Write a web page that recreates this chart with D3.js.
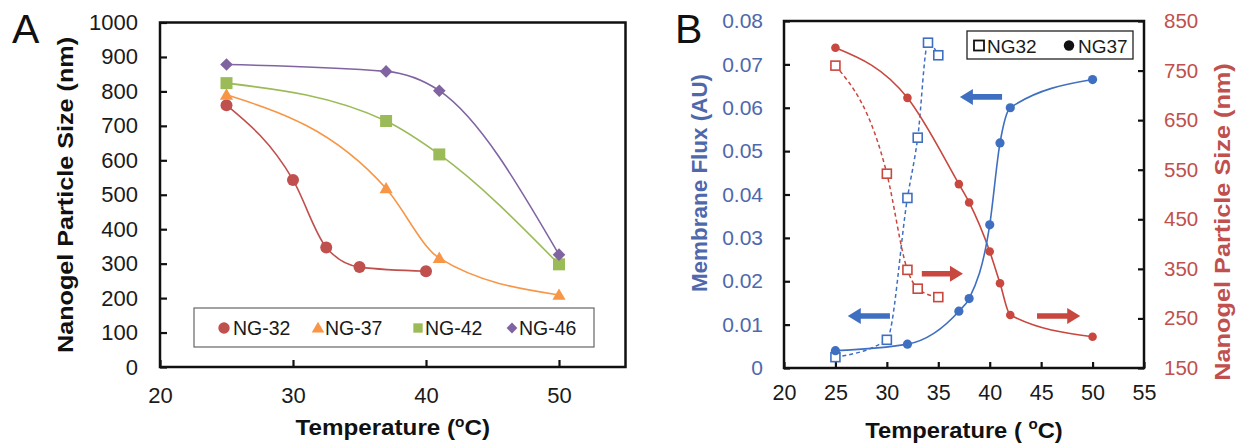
<!DOCTYPE html>
<html><head><meta charset="utf-8">
<script src="https://cdn.jsdelivr.net/npm/d3@7"></script>
<style>
html,body{margin:0;padding:0;background:#fff;}
svg{display:block;font-family:"Liberation Sans",Arial,sans-serif;}
</style></head>
<body>
<svg id="c" width="1244" height="444"></svg>
<script>
// ---------- Panel A data ----------
const tempA_NG32 = [25, 30, 32.5, 35, 40];
const sizeA_NG32 = [760, 543, 347, 290, 278];
const tempA = [25, 37, 41, 50];
const sizeA_NG37 = [790, 518, 316, 209];
const sizeA_NG42 = [824, 714, 617, 298];
const sizeA_NG46 = [878, 858, 802, 326];
const seriesNamesA = ["NG-32", "NG-37", "NG-42", "NG-46"];
const ticksAx = [20, 30, 40, 50];
const ticksAy = [0, 100, 200, 300, 400, 500, 600, 700, 800, 900, 1000];

// ---------- Panel B data ----------
const tempB_NG37 = [25, 32, 37, 38, 40, 41, 42, 50];
const fluxB_NG37 = [0.0040, 0.0055, 0.0131, 0.0160, 0.0330, 0.0519, 0.0600, 0.0665];
const sizeB_NG37 = [796, 695, 521, 484, 385, 321, 257, 213];
const tempB_NG32flux = [25, 30, 32, 33, 34, 35];
const fluxB_NG32 = [0.0025, 0.0065, 0.0392, 0.0531, 0.0750, 0.0721];
const tempB_NG32size = [25, 30, 32, 33, 35];
const sizeB_NG32 = [760, 542, 348, 310, 293];
const seriesNamesB = ["NG32", "NG37"];
const ticksBx = [20, 25, 30, 35, 40, 45, 50, 55];
const ticksBl = [0, 0.01, 0.02, 0.03, 0.04, 0.05, 0.06, 0.07, 0.08];
const ticksBr = [150, 250, 350, 450, 550, 650, 750, 850];
// arrows: tail temperature, head temperature, value on its axis
const arrowsB = [
  {x1: 30.3, x2: 26.2, v: 0.0120, axis: "flux"},
  {x1: 41.2, x2: 37.1, v: 0.0625, axis: "flux"},
  {x1: 33.4, x2: 37.4, v: 340, axis: "size"},
  {x1: 44.6, x2: 48.8, v: 255, axis: "size"}
];

const colA = ["#C0504D", "#F79646", "#9BBB59", "#8064A2"];
const BLUE = "#3F6FC0", BLUE_TXT = "#4E68AC", RED = "#C8473E", RED_TXT = "#C0504D";

const svg = d3.select("#c");
const FONT = '"Liberation Sans",Arial,sans-serif';

function stretchText(sel, x, y, k, rot) {
  sel.attr("x", 0).attr("y", 0)
     .attr("transform", `translate(${x},${y})` + (rot ? ` rotate(${rot})` : "") + ` scale(${k},1)`);
}

// ================= PANEL A =================
const xA = d3.scaleLinear().domain([20, 55]).range([160, 625.5]);
const yA = d3.scaleLinear().domain([0, 1000]).range([367, 22.5]);

const gA = svg.append("g");
const axL = gA.append("g").attr("transform", `translate(${xA(20)},0)`)
  .call(d3.axisLeft(yA).tickValues(ticksAy).tickFormat(d3.format("d"))
    .tickSizeInner(-7).tickSizeOuter(0).tickPadding(22));
const axB = gA.append("g").attr("transform", `translate(0,${yA(0)})`)
  .call(d3.axisBottom(xA).tickValues(ticksAx).tickSizeInner(-7).tickSizeOuter(0).tickPadding(20));
[axL, axB].forEach(a => {
  a.select(".domain").remove();
  a.selectAll("line").attr("stroke", "#111").attr("stroke-width", 2.2);
  a.selectAll("text").attr("font-size", 22).attr("fill", "#1a1a1a").attr("font-family", FONT);
});
gA.append("rect").attr("x", xA(20)).attr("y", yA(1000))
  .attr("width", xA(55) - xA(20)).attr("height", yA(0) - yA(1000))
  .attr("fill", "none").attr("stroke", "#111").attr("stroke-width", 2.5);

const lineS = d3.line().curve(d3.curveMonotoneX);
const seriesA = [
  {t: tempA_NG32, v: sizeA_NG32, shape: "circle"},
  {t: tempA, v: sizeA_NG37, shape: "triangle"},
  {t: tempA, v: sizeA_NG42, shape: "square"},
  {t: tempA, v: sizeA_NG46, shape: "diamond"}
];
function markerA(g, shape, x, y, c, scale) {
  scale = scale || 1;
  if (shape === "circle") {
    g.append("circle").attr("cx", x).attr("cy", y).attr("r", 6 * scale).attr("fill", c);
  } else if (shape === "triangle") {
    g.append("path").attr("transform", `translate(${x},${y + 1})`)
      .attr("d", d3.symbol(d3.symbolTriangle, 75 * scale * scale)()).attr("fill", c);
  } else if (shape === "square") {
    g.append("path").attr("transform", `translate(${x},${y})`)
      .attr("d", d3.symbol(d3.symbolSquare, 144 * scale * scale)()).attr("fill", c);
  } else {
    g.append("path").attr("transform", `translate(${x},${y}) rotate(45)`)
      .attr("d", d3.symbol(d3.symbolSquare, 80 * scale * scale)()).attr("fill", c);
  }
}
seriesA.forEach((s, i) => {
  const pts = s.t.map((t, j) => [xA(t), yA(s.v[j])]);
  gA.append("path").attr("d", lineS(pts)).attr("fill", "none")
    .attr("stroke", colA[i]).attr("stroke-width", 1.6);
});
seriesA.forEach((s, i) => {
  s.t.forEach((t, j) => markerA(gA, s.shape, xA(t), yA(s.v[j]), colA[i]));
});

// legend A
const legA = gA.append("g");
legA.append("rect").attr("x", 194).attr("y", 308).attr("width", 400).attr("height", 39)
  .attr("fill", "#fff").attr("stroke", "#666").attr("stroke-width", 1.2);
const legAx = [224, 318, 418, 512];
seriesA.forEach((s, i) => {
  const sc = s.shape === "square" ? 0.78 : (s.shape === "diamond" ? 0.85 : 0.95);
  markerA(legA, s.shape, legAx[i], 328, colA[i], sc);
  legA.append("text").attr("x", legAx[i] + (s.shape === "circle" ? 9 : 7)).attr("y", 335)
    .attr("font-size", 19.5).attr("fill", "#1a1a1a").text(seriesNamesA[i]);
});

// labels A
gA.append("text").attr("x", 12).attr("y", 43).attr("font-size", 41).attr("fill", "#111").text("A");
const ylabA = gA.append("text").attr("text-anchor", "middle").attr("font-size", 22)
  .attr("font-weight", "bold").attr("fill", "#111").text("Nanogel Particle Size (nm)");
stretchText(ylabA, 73, 195, 1.145, -90);
const xlabA = gA.append("text").attr("text-anchor", "middle").attr("font-size", 22)
  .attr("font-weight", "bold").attr("fill", "#111");
xlabA.append("tspan").text("Temperature (");
xlabA.append("tspan").attr("font-size", 14).attr("dy", -8).text("o");
xlabA.append("tspan").attr("dy", 8).text("C)");
stretchText(xlabA, (xA(20) + xA(55)) / 2, 435, 1.10, 0);

// ================= PANEL B =================
const xB = d3.scaleLinear().domain([20, 55]).range([784, 1144]);
const yBL = d3.scaleLinear().domain([0, 0.08]).range([368, 21]);
const yBR = d3.scaleLinear().domain([150, 850]).range([368, 21]);
const gB = svg.append("g");

const bL = gB.append("g").attr("transform", `translate(${xB(20)},0)`)
  .call(d3.axisLeft(yBL).tickValues(ticksBl).tickSizeInner(-6).tickSizeOuter(0).tickPadding(21)
    .tickFormat(d => d === 0 ? "0" : d3.format(".2f")(d)));
const bR = gB.append("g").attr("transform", `translate(${xB(55)},0)`)
  .call(d3.axisRight(yBR).tickValues(ticksBr).tickSizeInner(-6).tickSizeOuter(0).tickPadding(20));
const bB = gB.append("g").attr("transform", `translate(0,${yBL(0)})`)
  .call(d3.axisBottom(xB).tickValues(ticksBx).tickSizeInner(-6).tickSizeOuter(0).tickPadding(17));
[[bL, BLUE_TXT, 21], [bR, RED_TXT, 20.5], [bB, "#1a1a1a", 21.5]].forEach(([a, c, fs]) => {
  a.select(".domain").remove();
  a.selectAll("line").attr("stroke", "#111").attr("stroke-width", 2.2);
  a.selectAll("text").attr("font-size", fs).attr("fill", c).attr("font-family", FONT);
});
gB.append("rect").attr("x", xB(20)).attr("y", yBL(0.08))
  .attr("width", xB(55) - xB(20)).attr("height", yBL(0) - yBL(0.08))
  .attr("fill", "none").attr("stroke", "#111").attr("stroke-width", 2.5);

// curves
const ptsBlue37 = tempB_NG37.map((t, j) => [xB(t), yBL(fluxB_NG37[j])]);
const ptsRed37 = tempB_NG37.map((t, j) => [xB(t), yBR(sizeB_NG37[j])]);
const ptsBlue32 = tempB_NG32flux.map((t, j) => [xB(t), yBL(fluxB_NG32[j])]);
const ptsRed32 = tempB_NG32size.map((t, j) => [xB(t), yBR(sizeB_NG32[j])]);
gB.append("path").attr("d", lineS(ptsRed32)).attr("fill", "none").attr("stroke", RED)
  .attr("stroke-width", 1.5).attr("stroke-dasharray", "4,3");
gB.append("path").attr("d", lineS(ptsBlue32)).attr("fill", "none").attr("stroke", BLUE)
  .attr("stroke-width", 1.5).attr("stroke-dasharray", "4,3");
gB.append("path").attr("d", lineS(ptsRed37)).attr("fill", "none").attr("stroke", RED)
  .attr("stroke-width", 1.6);
gB.append("path").attr("d", lineS(ptsBlue37)).attr("fill", "none").attr("stroke", BLUE)
  .attr("stroke-width", 1.6);

// markers
function openSq(g, x, y, c, s, sw) {
  g.append("rect").attr("x", x - s / 2).attr("y", y - s / 2).attr("width", s).attr("height", s)
    .attr("fill", "#fff").attr("stroke", c).attr("stroke-width", sw);
}
ptsRed32.forEach(p => openSq(gB, p[0], p[1], RED, 9, 1.6));
ptsBlue32.forEach(p => openSq(gB, p[0], p[1], BLUE, 9, 1.6));
ptsRed37.forEach(p => gB.append("circle").attr("cx", p[0]).attr("cy", p[1]).attr("r", 4.3).attr("fill", RED));
ptsBlue37.forEach(p => gB.append("circle").attr("cx", p[0]).attr("cy", p[1]).attr("r", 4.6).attr("fill", BLUE));

// arrows
arrowsB.forEach(a => {
  const y = a.axis === "flux" ? yBL(a.v) : yBR(a.v);
  const x1 = xB(a.x1), x2 = xB(a.x2);
  const dir = Math.sign(x2 - x1);
  const headLen = 13, headHalf = 8, shaft = 2.8;
  const xb = x2 - dir * headLen;
  const c = a.axis === "flux" ? BLUE : RED;
  const d = `M${x1},${y - shaft}L${xb},${y - shaft}L${xb},${y - headHalf}L${x2},${y}` +
            `L${xb},${y + headHalf}L${xb},${y + shaft}L${x1},${y + shaft}Z`;
  gB.append("path").attr("d", d).attr("fill", c);
});

// legend B
const legB = gB.append("g");
legB.append("rect").attr("x", 967).attr("y", 31).attr("width", 166).attr("height", 28)
  .attr("fill", "#fff").attr("stroke", "#222").attr("stroke-width", 1.3);
openSq(legB, 979, 45.5, "#111", 10, 1.8);
legB.append("text").attr("x", 987).attr("y", 52.5).attr("font-size", 19).attr("fill", "#1a1a1a").text(seriesNamesB[0]);
legB.append("circle").attr("cx", 1069).attr("cy", 45.5).attr("r", 5.2).attr("fill", "#111");
legB.append("text").attr("x", 1078).attr("y", 52.5).attr("font-size", 19).attr("fill", "#1a1a1a").text(seriesNamesB[1]);

// labels B
gB.append("text").attr("x", 675).attr("y", 43).attr("font-size", 41).attr("fill", "#111").text("B");
const ylabBL = gB.append("text").attr("text-anchor", "middle").attr("font-size", 22)
  .attr("font-weight", "bold").attr("fill", BLUE_TXT).text("Membrane Flux (AU)");
stretchText(ylabBL, 707, 183, 1.02, -90);
const ylabBR = gB.append("text").attr("text-anchor", "middle").attr("font-size", 22)
  .attr("font-weight", "bold").attr("fill", RED_TXT).text("Nanogel Particle Size (nm)");
stretchText(ylabBR, 1230, 222, 1.15, -90);
const xlabB = gB.append("text").attr("text-anchor", "middle").attr("font-size", 22)
  .attr("font-weight", "bold").attr("fill", "#111");
xlabB.append("tspan").text("Temperature ( ");
xlabB.append("tspan").attr("font-size", 14).attr("dy", -9).text("o");
xlabB.append("tspan").attr("dy", 9).text("C)");
stretchText(xlabB, (xB(20) + xB(55)) / 2, 438, 1.08, 0);
</script>
</body></html>
